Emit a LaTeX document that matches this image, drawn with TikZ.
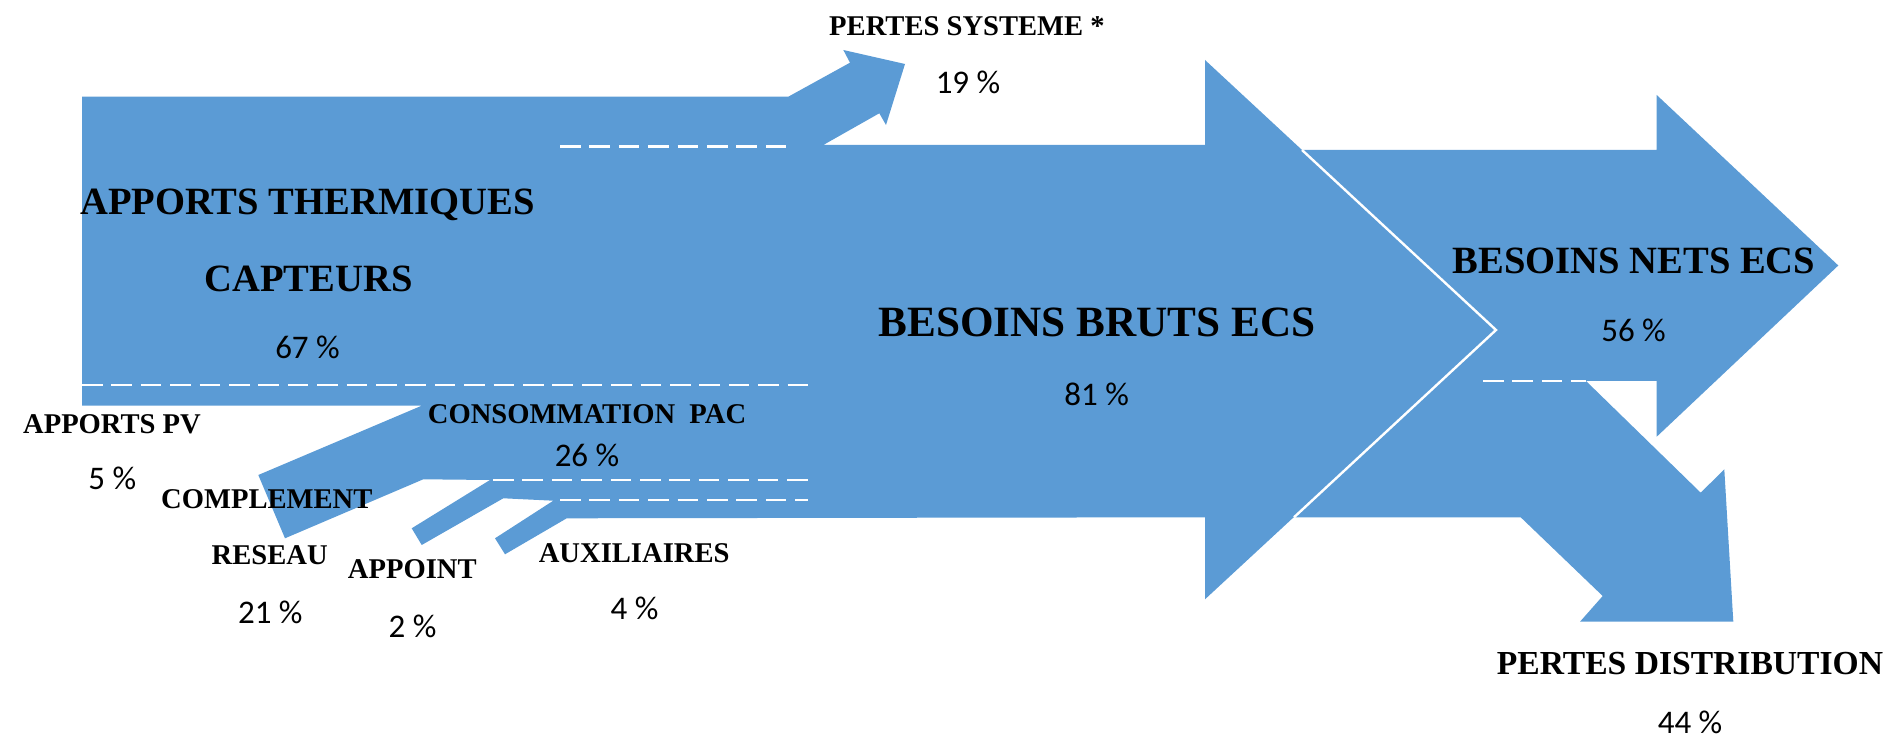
\documentclass[tikz,border=0pt]{standalone}
\usepackage{fontspec}
\setmainfont{Liberation Serif}
\newfontfamily\pctfont{Carlito}
\definecolor{flowblue}{RGB}{91,155,213}
\tikzstyle{flow} = [fill=flowblue, draw=none]
\tikzstyle{split} = [white, line width=1.35pt, dash pattern=on 10.3pt off 4.4pt]
\tikzstyle{rim} = [white, line width=1.2pt]
\tikzstyle{txt} = [inner sep=0pt, anchor=base,
  font=\bfseries\fontsize{14.3}{16}\selectfont]
\tikzstyle{midtxt} = [txt, font=\bfseries\fontsize{16.8}{19}\selectfont]
\tikzstyle{bigtxt} = [txt, font=\bfseries\fontsize{19.3}{22}\selectfont]
\tikzstyle{hugetxt} = [txt, font=\bfseries\fontsize{21.6}{24}\selectfont]
\tikzstyle{pct} = [inner sep=0pt, anchor=base,
  font=\pctfont\fontsize{16.5}{19}\selectfont]

\begin{document}
\begin{tikzpicture}[x=0.5pt, y=-0.5pt]

\useasboundingbox (0,0) rectangle (1895,742);

%% shapes
% apports, pertes systeme, besoins bruts
\fill [flow] (82,96.7) -- (788.3,96.7) -- (850,62.7) -- (843.3,50)
  -- (905,64) -- (886,125) -- (879.3,113.3) -- (823.3,145)
  -- (1205,145) -- (1205,60) -- (1496,330) -- (1205,599.3)
  -- (1205,517.3) -- (566.7,518.3) -- (505,554.3) -- (495,538.3)
  -- (553.3,500.7) -- (503.3,498.3) -- (421.7,545) -- (411.7,528.3)
  -- (490,480) -- (423.3,479.3) -- (285,538.3) -- (258.3,475)
  -- (421.7,405.7) -- (82,405.7) -- cycle;
% besoins nets
\fill [flow] (1290,150) -- (1656.7,150) -- (1656.7,95) -- (1838.3,265.5)
  -- (1656.7,436.7) -- (1656.7,381) -- (1290,381) -- cycle;
% pertes distribution
\fill [flow] (1290,377) -- (1583,377) -- (1586,381) -- (1700.7,492.7)
  -- (1724.3,469.3) -- (1733.3,621.7) -- (1580,621.7) -- (1602.7,596)
  -- (1520.7,517.3) -- (1290,517.3) -- cycle;

%% separations
\draw [rim] (1302,150) -- (1496,330) -- (1294,517.3);
\draw [split] (560,146.7) -- (787,146.7);
\draw [split] (82,385) -- (808,385);
\draw [split] (493,480) -- (808,480);
\draw [split] (560,500) -- (808,500);
\draw [split] (1483,381) -- (1586,381);

%% labels
\node (pertsys) [txt] at (967,36) {PERTES SYSTEME *};
\node (pertsyspct) [pct] at (968,93.3) {19 \%};
\node (thermo) [bigtxt] at (307.5,215) {APPORTS THERMIQUES};
\node (capteurs) [bigtxt] at (308.5,291.7) {CAPTEURS};
\node (thermopct) [pct] at (307.5,358.3) {67 \%};
\node (bruts) [hugetxt] at (1097,337) {BESOINS BRUTS ECS};
\node (brutspct) [pct] at (1096.6,406) {81 \%};
\node (nets) [bigtxt] at (1634,274) {BESOINS NETS ECS};
\node (netspct) [pct] at (1633.5,341.7) {56 \%};
\node (pv) [txt] at (112,434) {APPORTS PV};
\node (pvpct) [pct] at (112.3,489.3) {5 \%};
\node (pac) [txt] at (587,424) {CONSOMMATION\ \ PAC};
\node (pacpct) [pct] at (587,466.7) {26 \%};
\node (compl) [txt] at (266.8,508.3) {COMPLEMENT};
\node (reseau) [txt] at (269.7,565) {RESEAU};
\node (reseaupct) [pct] at (270.3,623.3) {21 \%};
\node (appoint) [txt] at (412.3,578.3) {APPOINT};
\node (appointpct) [pct] at (412.5,637.3) {2 \%};
\node (aux) [txt] at (634.2,562.3) {AUXILIAIRES};
\node (auxpct) [pct] at (634.5,619.3) {4 \%};
\node (pertdist) [midtxt] at (1690,674.4) {PERTES DISTRIBUTION};
\node (pertdistpct) [pct] at (1690,733) {44 \%};

\end{tikzpicture}
\end{document}
